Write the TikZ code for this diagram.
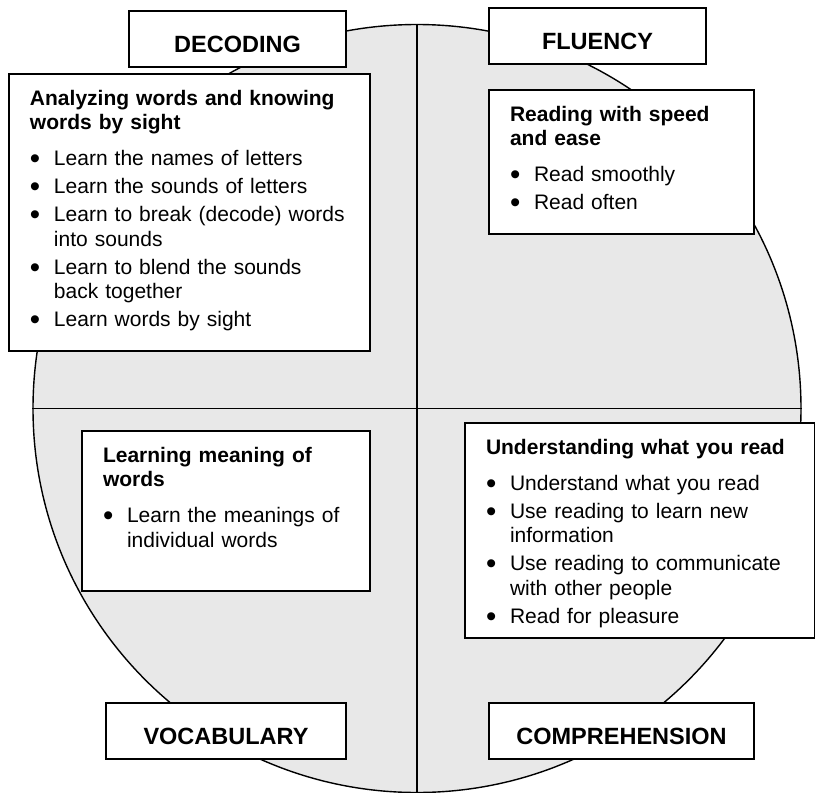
\documentclass[tikz,border=0pt]{standalone}
\usepackage{fontspec}
\usepackage{graphicx}
\setmainfont{Liberation Sans}
\setlength{\parskip}{0pt}
\definecolor{discgray}{RGB}{232,232,232}
% bullet line with hanging indent, and bold box title
\newcommand\bigdot{\raisebox{-3pt}{\scalebox{1.4}{\textbullet}}}
\newcommand\bul[1]{\vspace{3.5pt}\noindent\hangindent=24pt\hangafter=1\makebox[24pt][l]{\bigdot}#1\par}
\newcommand\boxtitle[1]{\textbf{#1}\par\vspace{8pt}}
\tikzset{
  head/.style={draw, line width=2pt, fill=white, inner sep=0pt,
    font=\fontsize{23.5}{28}\selectfont\bfseries,
    text height=41pt, text depth=15pt, anchor=north west},
  info/.style={draw, line width=2pt, fill=white, inner xsep=21pt, inner ysep=0pt,
    font=\fontsize{21}{24.5}\selectfont, text height=31pt, align=left, anchor=north west}
}
\begin{document}
\begin{tikzpicture}[x=1pt,y=-1pt]
\useasboundingbox (0,0) rectangle (815,793);
% the disc and its quarters
\node[circle, draw, line width=1.4pt, fill=discgray, inner sep=0pt, minimum size=768pt] (disc) at (417,408.5) {};
\draw[line width=1.6pt] (disc.north) -- (disc.south);
\draw[line width=1.6pt] (disc.west) -- (disc.east);
% quarter names
\node[head, minimum width=217pt] (decoding) at (128,10) {DECODING};
\node[head, minimum width=217pt] (fluency) at (488,7) {FLUENCY};
\node[head, minimum width=240pt] (vocabulary) at (105,702) {VOCABULARY};
\node[head, minimum width=265pt] (comprehension) at (488,702) {COMPREHENSION};
% what each quarter means
\node[info, text width=319pt, text depth=246pt] (decodinginfo) at (8,73) {%
\boxtitle{Analyzing words and knowing\newline words by sight}%
\bul{Learn the names of letters}
\bul{Learn the sounds of letters}
\bul{Learn to break (decode) words\newline into sounds}
\bul{Learn to blend the sounds\newline back together}
\bul{Learn words by sight}};
\node[info, text width=223pt, text depth=113pt] (fluencyinfo) at (488,89) {%
\boxtitle{Reading with speed\newline and ease}%
\bul{Read smoothly}
\bul{Read often}};
\node[info, text width=246pt, text depth=129pt] (vocabularyinfo) at (81,430) {%
\boxtitle{Learning meaning of\newline words}%
\bul{Learn the meanings of\newline individual words}};
\node[info, text width=307.5pt, text depth=184pt] (comprehensioninfo) at (464,422) {%
\boxtitle{Understanding what you read}%
\bul{Understand what you read}
\bul{Use reading to learn new\newline information}
\bul{Use reading to communicate\newline with other people}
\bul{Read for pleasure}};
\end{tikzpicture}
\end{document}
